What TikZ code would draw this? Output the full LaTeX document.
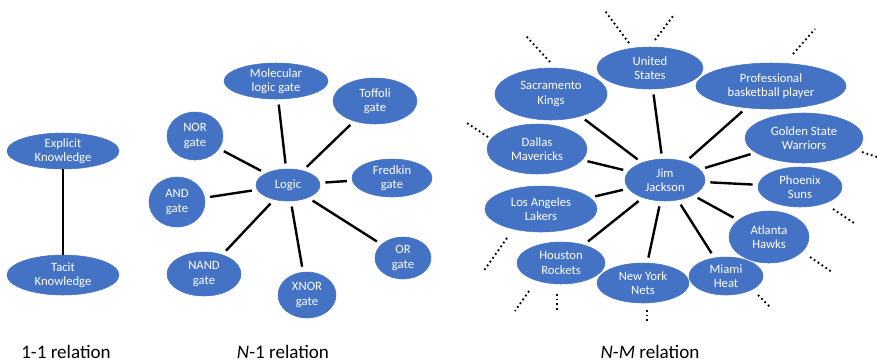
\documentclass[tikz,border=0pt]{standalone}
\usepackage{fontspec}
\setmainfont{Carlito}
\usepackage{tikz}
\usepackage{xcolor}
\usetikzlibrary{shapes.geometric}

\definecolor{officeblue}{RGB}{68,114,196}

\tikzset{
  blob/.style 2 args={ellipse, fill=officeblue, draw=officeblue, text=white,
    inner sep=0pt, align=center, font=\fontsize{9.5}{10.8}\selectfont,
    minimum width=#1*1.5pt, minimum height=#2*1.5pt},
  link/.style={line width=1.8pt, shorten <=4pt, shorten >=4pt},
  more/.style={line width=1.4pt, dash pattern=on 1.3pt off 2.2pt},
  caption/.style={font=\fontsize{14.3}{16}\selectfont, anchor=base, inner sep=0pt}
}

\begin{document}
\begin{tikzpicture}[x=0.75pt,y=0.75pt,yscale=-1,xscale=1]
\useasboundingbox (0,0) rectangle (877,362);

% 1-1 relation
\node [blob={56}{18}] (explicit) at (63,151) {Explicit\\Knowledge};
\node [blob={56}{20}] (tacit) at (63,275) {Tacit\\Knowledge};
\draw [link, shorten <=0pt, shorten >=0pt] (explicit) -- (tacit);

% N-1 relation
\node [blob={32}{16}] (logic) at (288,185) {Logic};
\node [blob={52}{18}] (molecular) at (276,81) {Molecular\\logic gate};
\node [blob={42}{23}] (toffoli) at (375,101) {Toffoli\\gate};
\node [blob={28}{24}] (nor) at (195,136) {NOR\\gate};
\node [blob={40}{19}] (fredkin) at (392,178) {Fredkin\\gate};
\node [blob={28}{25}] (and) at (177,202) {AND\\gate};
\node [blob={37}{22}] (nand) at (204,274) {NAND\\gate};
\node [blob={29}{23}] (xnor) at (307,295) {XNOR\\gate};
\node [blob={28}{21}] (or) at (403,258) {OR\\gate};

\foreach \g in {molecular,toffoli,nor,fredkin,and,nand,xnor,or}
  \draw [link] (logic) -- (\g);

% N-M relation
\node [blob={40}{21}] (jim) at (665,180) {Jim\\Jackson};
\node [blob={53}{21}] (us) at (650,68) {United\\States};
\node [blob={56}{26}] (kings) at (551,94) {Sacramento\\Kings};
\node [blob={75}{23}] (pro) at (771,86) {Professional\\basketball player};
\node [blob={50}{25}] (mavs) at (537,149) {Dallas\\Mavericks};
\node [blob={59}{25}] (warriors) at (804,138) {Golden State\\Warriors};
\node [blob={42}{20}] (suns) at (800,187) {Phoenix\\Suns};
\node [blob={56}{23}] (lakers) at (541,209) {Los Angeles\\Lakers};
\node [blob={40}{26}] (hawks) at (769,237) {Atlanta\\Hawks};
\node [blob={44}{21}] (rockets) at (561,263) {Houston\\Rockets};
\node [blob={46}{20}] (nets) at (643,283) {New York\\Nets};
\node [blob={37}{19}] (heat) at (726,276) {Miami\\Heat};

\foreach \t in {us,kings,pro,mavs,warriors,suns,lakers,hawks,rockets,nets,heat}
  \draw [link] (jim) -- (\t);

% further links
\draw [more] (629,43) -- (605,11);
\draw [more] (655,40) -- (673,16);
\draw [more] (550,62) -- (526,36);
\draw [more] (793,54) -- (815,29);
\draw [more] (488,137) -- (467,123);
\draw [more] (862,152) -- (877,157);
\draw [more] (833,209) -- (854,223);
\draw [more] (810,257) -- (832,272);
\draw [more] (758,295) -- (770,307);
\draw [more] (647,310) -- (647,322);
\draw [more] (557,294) -- (557,310);
\draw [more] (529,291) -- (515,311);
\draw [more] (507,238) -- (483,272);

% captions
\node [caption] (c1) at (66,358) {1-1 relation};
\node [caption] (c2) at (283,358) {\textit{N}-1 relation};
\node [caption] (c3) at (650,358) {\textit{N}-\textit{M} relation};
\end{tikzpicture}
\end{document}
